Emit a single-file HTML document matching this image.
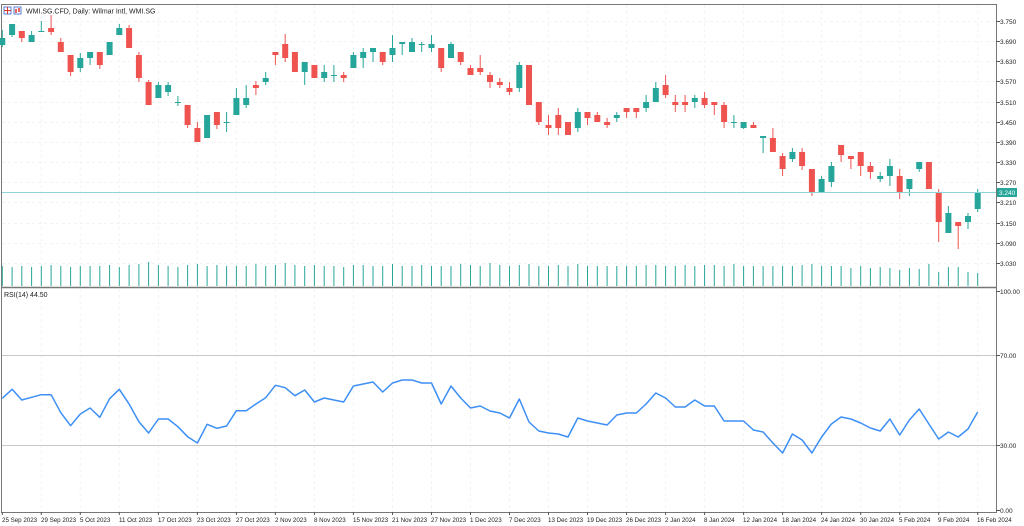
<!DOCTYPE html>
<html><head><meta charset="utf-8"><style>
html,body{margin:0;padding:0;background:#fff;}
svg{display:block;font-family:"Liberation Sans",sans-serif;}
</style></head><body>
<svg width="1024" height="526" viewBox="0 0 1024 526" xmlns="http://www.w3.org/2000/svg">
<rect width="1024" height="526" fill="#fff"/>
<g stroke="#f3f3f3" stroke-width="1" stroke-dasharray="3,3">
<path d="M41.3 5V287M80.3 5V287M119.3 5V287M158.4 5V287M197.4 5V287M236.4 5V287M275.4 5V287M314.4 5V287M353.4 5V287M392.5 5V287M431.5 5V287M470.5 5V287M509.5 5V287M548.5 5V287M587.5 5V287M626.6 5V287M665.6 5V287M704.6 5V287M743.6 5V287M782.6 5V287M821.6 5V287M860.7 5V287M899.7 5V287M938.7 5V287M977.7 5V287"/>
<path d="M41.3 289V512M80.3 289V512M119.3 289V512M158.4 289V512M197.4 289V512M236.4 289V512M275.4 289V512M314.4 289V512M353.4 289V512M392.5 289V512M431.5 289V512M470.5 289V512M509.5 289V512M548.5 289V512M587.5 289V512M626.6 289V512M665.6 289V512M704.6 289V512M743.6 289V512M782.6 289V512M821.6 289V512M860.7 289V512M899.7 289V512M938.7 289V512M977.7 289V512"/>
<path d="M2 21.5H996M2 41.5H996M2 61.5H996M2 81.5H996M2 102.5H996M2 122.5H996M2 142.5H996M2 162.5H996M2 182.5H996M2 202.5H996M2 223.5H996M2 243.5H996M2 263.5H996"/>
</g>
<path d="M2 355.5H996M2 445.5H996" stroke="#c8c8c8" stroke-width="1"/>
<path d="M1.5 4.5H996.5V512.5H1.5Z" fill="none" stroke="#777" stroke-width="1"/>
<path d="M1 287.5H997" stroke="#777" stroke-width="1.5"/>
<path stroke="#26a69a" stroke-width="1" d="M2.3 286V266M12.1 286V267M21.8 286V266M31.6 286V267M41.3 286V266M51.1 286V265M60.8 286V266M70.6 286V267M80.3 286V266M90.1 286V266M99.8 286V266M109.6 286V265M119.3 286V267M129.1 286V265M138.9 286V264M148.6 286V262M158.4 286V265M168.1 286V266M177.9 286V267M187.6 286V265M197.4 286V264M207.1 286V266M216.9 286V265M226.6 286V266M236.4 286V266M246.2 286V266M255.9 286V264M265.7 286V266M275.4 286V265M285.2 286V263M294.9 286V265M304.7 286V266M314.4 286V265M324.2 286V266M333.9 286V266M343.7 286V267M353.4 286V265M363.2 286V265M373 286V266M382.7 286V266M392.5 286V264M402.2 286V266M412 286V266M421.7 286V265M431.5 286V266M441.2 286V266M451 286V266M460.7 286V264M470.5 286V265M480.2 286V266M490 286V263M499.8 286V265M509.5 286V266M519.3 286V265M529 286V264M538.8 286V266M548.5 286V266M558.3 286V265M568 286V266M577.8 286V264M587.5 286V266M597.3 286V266M607.1 286V266M616.8 286V266M626.6 286V266M636.3 286V266M646.1 286V265M655.8 286V265M665.6 286V266M675.3 286V266M685.1 286V265M694.8 286V266M704.6 286V265M714.3 286V265M724.1 286V266M733.9 286V264M743.6 286V266M753.4 286V266M763.1 286V266M772.9 286V266M782.6 286V266M792.4 286V266M802.1 286V265M811.9 286V264M821.6 286V266M831.4 286V266M841.1 286V266M850.9 286V268M860.7 286V266M870.4 286V268M880.2 286V267M889.9 286V268M899.7 286V270M909.4 286V268M919.2 286V269M928.9 286V264M938.7 286V272M948.4 286V267M958.2 286V267M968 286V272M977.7 286V273"/>
<path stroke="#26a69a" stroke-width="1" fill="none" d="M2.3 30V47M12.1 24V37M31.6 31V42M41.3 21V32M80.3 53V72M90.1 52V65M109.6 42V55M119.3 24V35M158.4 82V98M168.1 82V96M177.9 96V106M207.1 115V138M226.6 112V132M236.4 88V115M246.2 85V108M265.7 72V85M304.7 62V85M324.2 65V82M333.9 65V82M353.4 52V68M363.2 48V68M373 48V62M392.5 35V62M402.2 42V55M412 38V52M421.7 42V52M431.5 35V52M451 42V58M519.3 62V92M577.8 108V132M616.8 112V122M646.1 95V112M655.8 82V102M694.8 95V108M733.9 115V128M743.6 122V129M763.1 136V153M792.4 148V162M821.6 176V192M831.4 162V187M880.2 172V182M889.9 159V186M909.4 179V196M919.2 162V172M948.4 206V233M968 213V229M977.7 189V212"/>
<path stroke="#ef5350" stroke-width="1" fill="none" d="M21.8 31V42M51.1 15V35M60.8 38V52M70.6 55V76M99.8 52V69M129.1 25V48M138.9 52V82M148.6 80V105M187.6 105V128M197.4 122V142M216.9 112V129M255.9 81V95M275.4 52V65M285.2 34V62M294.9 52V72M314.4 65V78M343.7 72V82M382.7 52V65M441.2 48V72M460.7 52V65M470.5 65V75M480.2 55V75M490 72V88M499.8 78V88M509.5 82V95M529 65V105M538.8 102V125M548.5 115V135M558.3 108V135M568 122V135M587.5 112V125M597.3 112V122M607.1 118V128M626.6 108V118M636.3 108V118M665.6 75V98M675.3 95V112M685.1 95V112M704.6 92V108M714.3 102V115M724.1 102V128M753.4 122V128M772.9 128V152M782.6 153V176M802.1 148V170M811.9 169V196M841.1 145V162M850.9 156V169M860.7 152V176M870.4 162V179M899.7 169V199M928.9 162V189M938.7 189V242M958.2 222V249"/>
<g fill="#26a69a">
<rect x="-0.7" y="38" width="6" height="7"/><rect x="9.1" y="24" width="6" height="11"/><rect x="28.6" y="35" width="6" height="7"/><rect x="38.3" y="31" width="6" height="1"/><rect x="77.3" y="58" width="6" height="10"/><rect x="87.1" y="52" width="6" height="6"/><rect x="106.6" y="42" width="6" height="13"/><rect x="116.3" y="28" width="6" height="7"/><rect x="155.4" y="85" width="6" height="13"/><rect x="165.1" y="85" width="6" height="7"/><rect x="174.9" y="102" width="6" height="1"/><rect x="204.1" y="115" width="6" height="23"/><rect x="223.6" y="122" width="6" height="1"/><rect x="233.4" y="98" width="6" height="17"/><rect x="243.2" y="98" width="6" height="7"/><rect x="262.7" y="78" width="6" height="4"/><rect x="301.7" y="62" width="6" height="10"/><rect x="321.2" y="72" width="6" height="6"/><rect x="330.9" y="75" width="6" height="1"/><rect x="350.4" y="55" width="6" height="13"/><rect x="360.2" y="52" width="6" height="6"/><rect x="370" y="48" width="6" height="4"/><rect x="389.5" y="48" width="6" height="7"/><rect x="399.2" y="42" width="6" height="2"/><rect x="409" y="42" width="6" height="10"/><rect x="418.7" y="44" width="6" height="1"/><rect x="428.5" y="44" width="6" height="4"/><rect x="448" y="44" width="6" height="14"/><rect x="516.3" y="65" width="6" height="23"/><rect x="574.8" y="112" width="6" height="16"/><rect x="613.8" y="115" width="6" height="3"/><rect x="643.1" y="102" width="6" height="6"/><rect x="652.8" y="88" width="6" height="14"/><rect x="691.8" y="98" width="6" height="4"/><rect x="730.9" y="122" width="6" height="1"/><rect x="740.6" y="122" width="6" height="6"/><rect x="760.1" y="136" width="6" height="2"/><rect x="789.4" y="152" width="6" height="7"/><rect x="818.6" y="179" width="6" height="13"/><rect x="828.4" y="166" width="6" height="16"/><rect x="877.2" y="176" width="6" height="3"/><rect x="886.9" y="166" width="6" height="10"/><rect x="906.4" y="179" width="6" height="10"/><rect x="916.2" y="162" width="6" height="7"/><rect x="945.4" y="213" width="6" height="20"/><rect x="965" y="216" width="6" height="6"/><rect x="974.7" y="193" width="6" height="16"/>
</g>
<g fill="#ef5350">
<rect x="18.8" y="31" width="6" height="7"/><rect x="48.1" y="28" width="6" height="4"/><rect x="57.8" y="42" width="6" height="10"/><rect x="67.6" y="55" width="6" height="17"/><rect x="96.8" y="52" width="6" height="13"/><rect x="126.1" y="28" width="6" height="20"/><rect x="135.9" y="55" width="6" height="23"/><rect x="145.6" y="82" width="6" height="23"/><rect x="184.6" y="105" width="6" height="20"/><rect x="194.4" y="128" width="6" height="14"/><rect x="213.9" y="112" width="6" height="13"/><rect x="252.9" y="85" width="6" height="3"/><rect x="272.4" y="52" width="6" height="3"/><rect x="282.2" y="44" width="6" height="14"/><rect x="291.9" y="52" width="6" height="20"/><rect x="311.4" y="65" width="6" height="13"/><rect x="340.7" y="75" width="6" height="3"/><rect x="379.7" y="52" width="6" height="10"/><rect x="438.2" y="48" width="6" height="20"/><rect x="457.7" y="52" width="6" height="10"/><rect x="467.5" y="68" width="6" height="7"/><rect x="477.2" y="68" width="6" height="4"/><rect x="487" y="75" width="6" height="7"/><rect x="496.8" y="82" width="6" height="3"/><rect x="506.5" y="88" width="6" height="4"/><rect x="526" y="65" width="6" height="40"/><rect x="535.8" y="102" width="6" height="20"/><rect x="545.5" y="125" width="6" height="3"/><rect x="555.3" y="115" width="6" height="13"/><rect x="565" y="122" width="6" height="13"/><rect x="584.5" y="112" width="6" height="6"/><rect x="594.3" y="115" width="6" height="7"/><rect x="604.1" y="122" width="6" height="3"/><rect x="623.6" y="108" width="6" height="4"/><rect x="633.3" y="108" width="6" height="4"/><rect x="662.6" y="85" width="6" height="10"/><rect x="672.3" y="102" width="6" height="3"/><rect x="682.1" y="102" width="6" height="3"/><rect x="701.6" y="98" width="6" height="7"/><rect x="711.3" y="102" width="6" height="3"/><rect x="721.1" y="105" width="6" height="17"/><rect x="750.4" y="125" width="6" height="3"/><rect x="769.9" y="138" width="6" height="14"/><rect x="779.6" y="156" width="6" height="13"/><rect x="799.1" y="152" width="6" height="14"/><rect x="808.9" y="169" width="6" height="23"/><rect x="838.1" y="145" width="6" height="10"/><rect x="847.9" y="156" width="6" height="3"/><rect x="857.7" y="152" width="6" height="14"/><rect x="867.4" y="166" width="6" height="6"/><rect x="896.7" y="176" width="6" height="16"/><rect x="925.9" y="162" width="6" height="27"/><rect x="935.7" y="192" width="6" height="30"/><rect x="955.2" y="222" width="6" height="4"/>
</g>
<path d="M2 192.5H996" stroke="#8fd3d6" stroke-width="1"/>
<polyline fill="none" stroke="#3d8ff5" stroke-width="1.5" stroke-linejoin="round" points="2.3,398.3 12.1,389.3 21.8,400 31.6,397.3 41.3,394.7 51.1,394.7 60.8,412.7 70.6,425.7 80.3,414 90.1,408 99.8,417.3 109.6,398.7 119.3,389.3 129.1,404 138.9,421.7 148.6,433 158.4,419 168.1,419 177.9,426.7 187.6,436.7 197.4,443 207.1,424.3 216.9,428.3 226.6,426 236.4,410.7 246.2,410.7 255.9,404 265.7,397.7 275.4,385.3 285.2,387.7 294.9,395.7 304.7,390 314.4,402 324.2,398 333.9,400 343.7,402 353.4,386 363.2,384 373,382 382.7,392 392.5,383 402.2,380 412,380 421.7,383 431.5,383 441.2,404 451,386 460.7,398 470.5,408 480.2,406 490,411 499.8,413 509.5,418 519.3,399 529,422 538.8,431 548.5,433 558.3,434 568,437 577.8,418 587.5,421 597.3,423 607.1,425 616.8,415 626.6,413 636.3,413 646.1,404 655.8,393 665.6,398 675.3,407 685.1,407 694.8,400 704.6,406 714.3,406 724.1,421 733.9,421 743.6,421 753.4,430 763.1,432 772.9,443 782.6,453 792.4,434 802.1,440 811.9,453 821.6,437 831.4,424 841.1,417 850.9,419 860.7,423 870.4,428 880.2,431 889.9,419 899.7,435 909.4,420 919.2,409 928.9,424 938.7,439 948.4,432 958.2,437 968,429 977.7,412"/>
<rect x="4" y="7" width="7" height="7" fill="#fff" stroke="#5a7fd6" stroke-width="1"/>
<path d="M4 10.5H11M7.5 7V14" stroke="#d33" stroke-width="1"/>
<rect x="14" y="7" width="7" height="7" fill="#fff" stroke="#5a7fd6" stroke-width="1"/>
<path d="M16 9V13M19 8V12" stroke="#d33" stroke-width="1.5"/>
<text x="26" y="13.5" font-size="7" fill="#222">WMI.SG.CFD, Daily:  Wilmar Intl, WMI.SG</text>
<text x="4" y="297" font-size="7" fill="#222">RSI(14) 44.50</text>
<g stroke="#555" stroke-width="1"><path d="M996 21.5h4M996 41.5h4M996 61.5h4M996 81.5h4M996 102.5h4M996 122.5h4M996 142.5h4M996 162.5h4M996 182.5h4M996 202.5h4M996 223.5h4M996 243.5h4M996 263.5h4M996 291.5h4M996 355.5h4M996 445.5h4M996 510.5h4"/></g>
<g font-size="6.5" fill="#222">
<text x="1000" y="24">3.750</text><text x="1000" y="44">3.690</text><text x="1000" y="64">3.630</text><text x="1000" y="84">3.570</text><text x="1000" y="105">3.510</text><text x="1000" y="125">3.450</text><text x="1000" y="145">3.390</text><text x="1000" y="165">3.330</text><text x="1000" y="185">3.270</text><text x="1000" y="205">3.210</text><text x="1000" y="226">3.150</text><text x="1000" y="246">3.090</text><text x="1000" y="266">3.030</text>
<text x="1000" y="294">100.00</text><text x="1000" y="358">70.00</text><text x="1000" y="448">30.00</text><text x="1000" y="513">0.00</text>
</g>
<rect x="997" y="188" width="20" height="9" fill="#26a69a"/>
<text x="999" y="195" font-size="6.5" fill="#fff">3.240</text>
<path stroke="#555" stroke-width="1" d="M2.3 512v3M41.3 512v3M80.3 512v3M119.3 512v3M158.4 512v3M197.4 512v3M236.4 512v3M275.4 512v3M314.4 512v3M353.4 512v3M392.5 512v3M431.5 512v3M470.5 512v3M509.5 512v3M548.5 512v3M587.5 512v3M626.6 512v3M665.6 512v3M704.6 512v3M743.6 512v3M782.6 512v3M821.6 512v3M860.7 512v3M899.7 512v3M938.7 512v3M977.7 512v3"/>
<g font-size="6.2" fill="#222">
<text x="2" y="522">25 Sep 2023</text><text x="41" y="522">29 Sep 2023</text><text x="80" y="522">5 Oct 2023</text><text x="119" y="522">11 Oct 2023</text><text x="158" y="522">17 Oct 2023</text><text x="197" y="522">23 Oct 2023</text><text x="236" y="522">27 Oct 2023</text><text x="275" y="522">2 Nov 2023</text><text x="314" y="522">8 Nov 2023</text><text x="353" y="522">15 Nov 2023</text><text x="392" y="522">21 Nov 2023</text><text x="431" y="522">27 Nov 2023</text><text x="470" y="522">1 Dec 2023</text><text x="509" y="522">7 Dec 2023</text><text x="548" y="522">13 Dec 2023</text><text x="587" y="522">19 Dec 2023</text><text x="626" y="522">26 Dec 2023</text><text x="665" y="522">2 Jan 2024</text><text x="704" y="522">8 Jan 2024</text><text x="743" y="522">12 Jan 2024</text><text x="782" y="522">18 Jan 2024</text><text x="821" y="522">24 Jan 2024</text><text x="860" y="522">30 Jan 2024</text><text x="899" y="522">5 Feb 2024</text><text x="938" y="522">9 Feb 2024</text><text x="977" y="522">16 Feb 2024</text>
</g>
</svg>
</body></html>
